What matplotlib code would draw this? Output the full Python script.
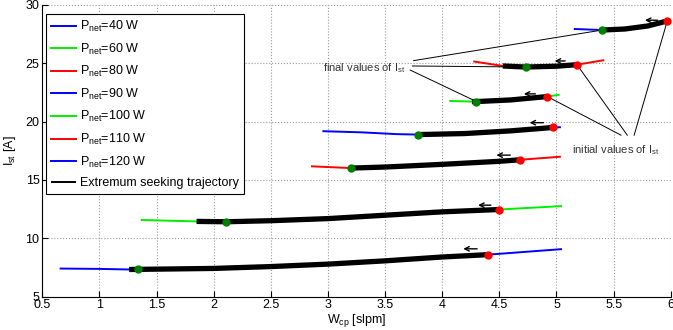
import numpy as np
import matplotlib
matplotlib.use("Agg")
import matplotlib.pyplot as plt

plt.rcParams['font.family'] = ['Liberation Sans', 'DejaVu Sans']
plt.rcParams['mathtext.fontset'] = 'custom'
plt.rcParams['mathtext.rm'] = 'Liberation Sans'
plt.rcParams['mathtext.it'] = 'Liberation Sans:italic'

# power levels and their line colours
powerLabels = ["40 W", "60 W", "80 W", "90 W", "100 W", "110 W", "120 W"]
lineColors = ["#0000ff", "#00ee00", "#ff0000", "#0000ff", "#00ee00", "#ff0000", "#0000ff"]

# current vs compressor flow curve for each power level
curveW = [
	[0.66, 1.0, 1.26, 2.0, 2.5, 3.0, 3.5, 4.0, 4.4, 5.04],
	[1.37, 1.85, 2.11, 2.5, 3.0, 3.5, 4.0, 4.5, 5.04],
	[2.86, 3.2, 3.5, 4.0, 4.5, 4.68, 5.03],
	[2.96, 3.3, 3.6, 3.79, 4.2, 4.6, 4.97, 5.03],
	[4.07, 4.26, 4.30, 4.6, 4.92, 5.02],
	[4.28, 4.53, 4.73, 5.0, 5.18, 5.41],
	[5.16, 5.40, 5.6, 5.8, 5.97, 5.99],
]
curveI = [
	[7.41, 7.38, 7.33, 7.42, 7.58, 7.79, 8.07, 8.40, 8.60, 9.07],
	[11.57, 11.45, 11.42, 11.51, 11.69, 11.98, 12.27, 12.47, 12.76],
	[16.17, 16.02, 16.11, 16.34, 16.60, 16.73, 16.99],
	[19.18, 19.08, 18.93, 18.89, 18.98, 19.21, 19.50, 19.52],
	[21.77, 21.72, 21.72, 21.86, 22.15, 22.30],
	[25.15, 24.77, 24.68, 24.75, 24.88, 25.26],
	[27.94, 27.85, 27.94, 28.20, 28.63, 28.66],
]

# extremum seeking trajectory: slice of curve points it covers
trajStart = [2, 1, 1, 3, 1, 1, 1]
trajEnd = [9, 8, 6, 7, 5, 5, 5]

# final (green) and initial (red) values
finalW = [1.34, 2.11, 3.2, 3.79, 4.30, 4.73, 5.40]
finalI = [7.33, 11.42, 16.02, 18.89, 21.72, 24.68, 27.85]
initW = [4.40, 4.50, 4.68, 4.97, 4.92, 5.18, 5.97]
initI = [8.60, 12.47, 16.73, 19.50, 22.15, 24.88, 28.63]

# direction arrows (tail x, head x, y)
arrowTail = [4.33, 4.45, 4.62, 4.91, 4.84, 5.10, 5.91]
arrowHead = [4.16, 4.29, 4.45, 4.74, 4.69, 4.96, 5.75]
arrowY = [9.10, 12.84, 17.13, 19.91, 22.38, 25.20, 28.69]

fig = plt.figure(figsize=(6.73, 3.30), dpi=100)
ax = fig.add_axes([0.0629, 0.101, 0.9337, 0.884])

for i in range(len(powerLabels)):
	ax.plot(curveW[i], curveI[i], color=lineColors[i], lw=1.4,
		label=r"P$_{\mathrm{net}}$=" + powerLabels[i])

for i in range(len(powerLabels)):
	s, e = trajStart[i], trajEnd[i]
	ax.plot(curveW[i][s:e], curveI[i][s:e], color="black", lw=3.8, solid_capstyle="butt",
		label="Extremum seeking trajectory" if i == 0 else None)
	ax.plot(finalW[i], finalI[i], "o", color="#007f00", ms=5, zorder=5)
	ax.plot(initW[i], initI[i], "o", color="#ff0000", ms=5, zorder=5)
	ax.annotate("", xy=(arrowHead[i], arrowY[i]), xytext=(arrowTail[i], arrowY[i]),
		arrowprops=dict(arrowstyle="->", color="black", lw=1.0, mutation_scale=8))

# annotations
ax.text(2.96, 24.6, r"final values of I$_{\mathrm{st}}$", fontsize=8, va="center", color="#333333")
for j, (sx, sy) in zip([6, 5, 4], [(3.75, 25.23), (3.74, 24.77), (3.72, 24.42)]):
	ax.plot([sx, finalW[j]], [sy, finalI[j]], color="black", lw=0.7)
ax.text(5.14, 17.6, r"initial values of I$_{\mathrm{st}}$", fontsize=8, va="center", color="#333333")
for j, sx in zip([4, 5, 6], [5.565, 5.62, 5.68]):
	ax.plot([sx, initW[j]], [18.84, initI[j]], color="black", lw=0.7)

ax.set_xlim(0.5, 6)
ax.set_ylim(5, 30)
ax.set_xticks(np.arange(0.5, 6.01, 0.5))
ax.set_xticklabels(["0.5", "1", "1.5", "2", "2.5", "3", "3.5", "4", "4.5", "5", "5.5", "6"])
ax.set_yticks([5, 10, 15, 20, 25, 30])
ax.tick_params(direction="in", labelsize=9, length=4)
ax.tick_params(axis="x", pad=2)
ax.tick_params(axis="y", pad=2)
ax.spines["top"].set_visible(False)
ax.spines["right"].set_visible(False)
ax.grid(True, linestyle=":", color="#999999", lw=0.8)
ax.set_xlabel(r"W$_{\mathrm{cp}}$ [slpm]", fontsize=9, labelpad=0)
ax.set_ylabel(r"I$_{\mathrm{st}}$ [A]", fontsize=9)
ax.yaxis.set_label_coords(-0.038, 0.5)
ax.xaxis.set_label_coords(0.5, -0.053)

leg = ax.legend(loc="upper left", bbox_to_anchor=(0.006, 0.969), borderaxespad=0,
	fontsize=9, handlelength=2.0, labelspacing=0.6, fancybox=False,
	edgecolor="black", framealpha=1, handletextpad=0.3, borderpad=0.4)
leg.get_frame().set_linewidth(0.8)
leg.get_lines()[-1].set_linewidth(1.4)

fig.savefig("out.png", dpi=100)
